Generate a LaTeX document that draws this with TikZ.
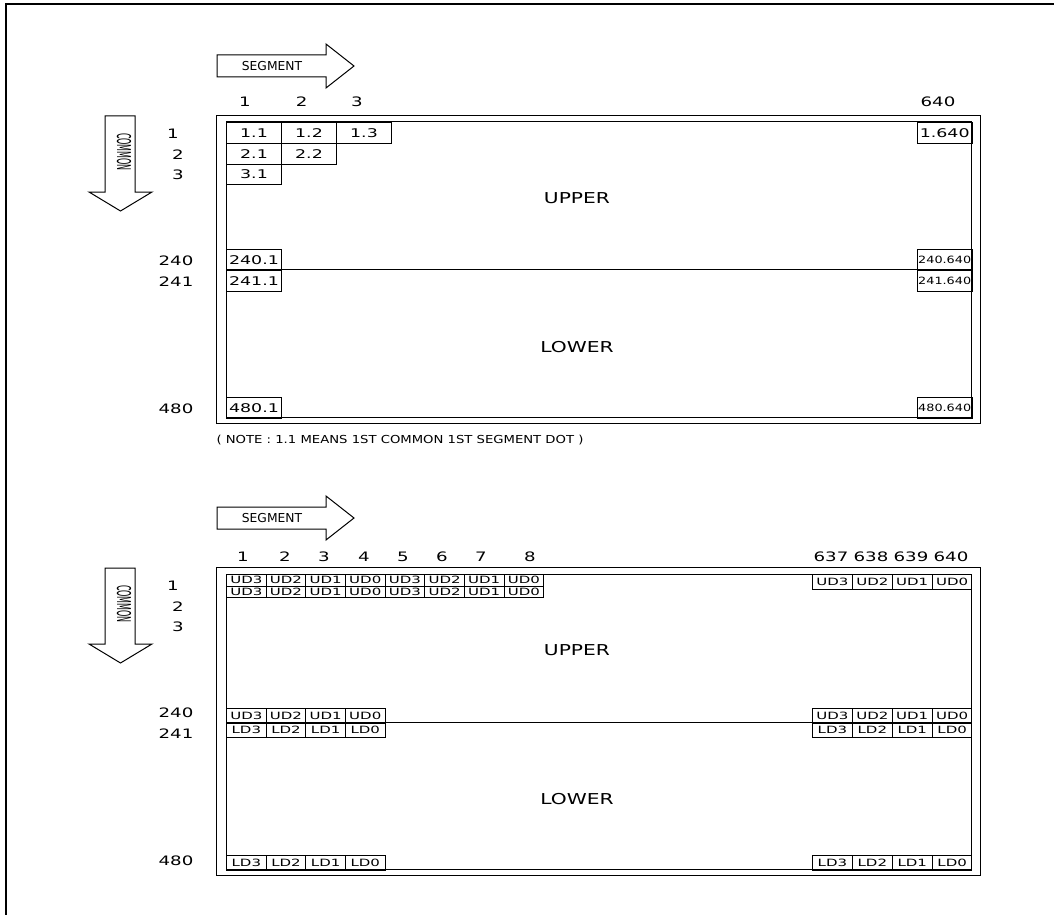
\documentclass[tikz,border=0pt]{standalone}
\usepackage{fontspec}
\setmainfont{DejaVu Sans}
\usepackage{graphicx}
\newcommand\wt[3]{\scalebox{#2}[1]{\fontsize{#1}{#1}\selectfont #3}}
\newcommand\tN[1]{\wt{13}{1.4}{#1}}
\newcommand\tA[1]{\wt{12}{1.45}{#1}}
\newcommand\tS[1]{\wt{10}{1.28}{#1}}
\newcommand\tB[1]{\wt{10}{1.5}{#1}}
\newcommand\tBig[1]{\wt{15}{1.35}{#1}}
\newcommand\skel[1]{%
  \draw (217,55) -- (326,55) -- (326,44) -- (354,66) -- (326,88) -- (326,77) -- (217,77) -- cycle;
  \node[lbl] (#1seg) at (272,66) {\wt{12.3}{1}{SEGMENT}};
  \draw (105,116) -- (135,116) -- (135,192) -- (152,192) -- (120.5,211) -- (89,192) -- (105,192) -- cycle;
  \node[lbl, rotate=-90] (#1com) at (124,152) {\wt{19}{0.42}{COMMON}};
  \draw (216.7,115.7) rectangle (980,423.5);
  \draw (226,122) rectangle (971.7,417.7);
  \node[lbl] (#1r1) at (173,133.3) {\tN{1}};
  \node[lbl] (#1r2) at (178,155) {\tN{2}};
  \node[lbl] (#1r3) at (178,175) {\tN{3}};
  \node[lbl] (#1r240) at (176,260.7) {\tN{240}};
  \node[lbl] (#1r241) at (176,281.7) {\tN{241}};
  \node[lbl] (#1r480) at (176,408.3) {\tN{480}};
  \node[lbl] (#1up) at (577,198) {\tBig{UPPER}};
  \node[lbl] (#1low) at (577,347) {\tBig{LOWER}};
}
\begin{document}
\begin{tikzpicture}[x=1pt,y=-1pt,line width=1pt,
  lbl/.style={inner sep=0pt, anchor=center},
  tc/.style={draw, inner sep=0pt, minimum width=55pt, minimum height=20.8pt, anchor=north west},
  bc/.style={draw, inner sep=0pt, minimum width=39.65pt, anchor=north west}]
\useasboundingbox (0,0) rectangle (1054,915);
\draw[line width=1.6pt] (1054,4) -- (6,4) -- (6,915);

% ---------- top diagram ----------
\skel{t}
\draw (226,269.8) -- (971.7,269.8);
\node[lbl] (tc1) at (245,102) {\tN{1}};
\node[lbl] (tc2) at (301.7,102) {\tN{2}};
\node[lbl] (tc3) at (357,102) {\tN{3}};
\node[lbl] (tc640) at (938,102) {\tN{640}};
\node[tc] (c11) at (226,122) {\tA{1.1}};
\node[tc] (c12) at (281,122) {\tA{1.2}};
\node[tc] (c13) at (336,122) {\tA{1.3}};
\node[tc] (c21) at (226,142.8) {\tA{2.1}};
\node[tc] (c22) at (281,142.8) {\tA{2.2}};
\node[tc] (c31) at (226,163.6) {\tA{3.1}};
\node[tc] (c1640) at (916.7,122) {\tA{1.640}};
\node[tc] (c2401) at (226,249) {\tA{240.1}};
\node[tc] (c2411) at (226,269.8) {\tA{241.1}};
\node[tc] (c240640) at (916.7,249) {\tS{240.640}};
\node[tc] (c241640) at (916.7,269.8) {\tS{241.640}};
\node[tc] (c4801) at (226,396.9) {\tA{480.1}};
\node[tc] (c480640) at (916.7,396.9) {\tS{480.640}};
\node[lbl, anchor=west] (note) at (216,440) {\wt{11}{1.2}{( NOTE : 1.1 MEANS 1ST COMMON 1ST SEGMENT DOT )}};

% ---------- bottom diagram ----------
\begin{scope}[shift={(0,452)}]
\skel{b}
\draw (226,270.5) -- (971.7,270.5);
\foreach \n/\x in {1/243,2/285,3/324,4/364,5/403,6/442,7/481,8/530,637/831,638/871,639/911,640/951}
  \node[lbl] (bcol\n) at (\x,105) {\tN{\n}};
\foreach \t [count=\k from 0] in {UD3,UD2,UD1,UD0,UD3,UD2,UD1,UD0} {
  \node[bc, minimum height=11.5pt] (ba\k) at ({226+\k*39.65},122) {\tB{\t}};
  \node[bc, minimum height=11.5pt] (bb\k) at ({226+\k*39.65},133.5) {\tB{\t}};
}
\foreach \t [count=\k from 0] in {UD3,UD2,UD1,UD0} {
  \node[bc, minimum height=15pt] (bra\k) at ({812.1+\k*39.9},122) {\tB{\t}};
  \node[bc, minimum height=15pt] (bla\k) at ({226+\k*39.65},255.5) {\tB{\t}};
  \node[bc, minimum height=15pt] (brb\k) at ({812.1+\k*39.9},255.5) {\tB{\t}};
}
\foreach \t [count=\k from 0] in {LD3,LD2,LD1,LD0} {
  \node[bc, minimum height=14.5pt] (blc\k) at ({226+\k*39.65},270.5) {\tB{\t}};
  \node[bc, minimum height=14.5pt] (brc\k) at ({812.1+\k*39.9},270.5) {\tB{\t}};
  \node[bc, minimum height=14.5pt] (bld\k) at ({226+\k*39.65},403.2) {\tB{\t}};
  \node[bc, minimum height=14.5pt] (brd\k) at ({812.1+\k*39.9},403.2) {\tB{\t}};
}
\end{scope}
\end{tikzpicture}
\end{document}
